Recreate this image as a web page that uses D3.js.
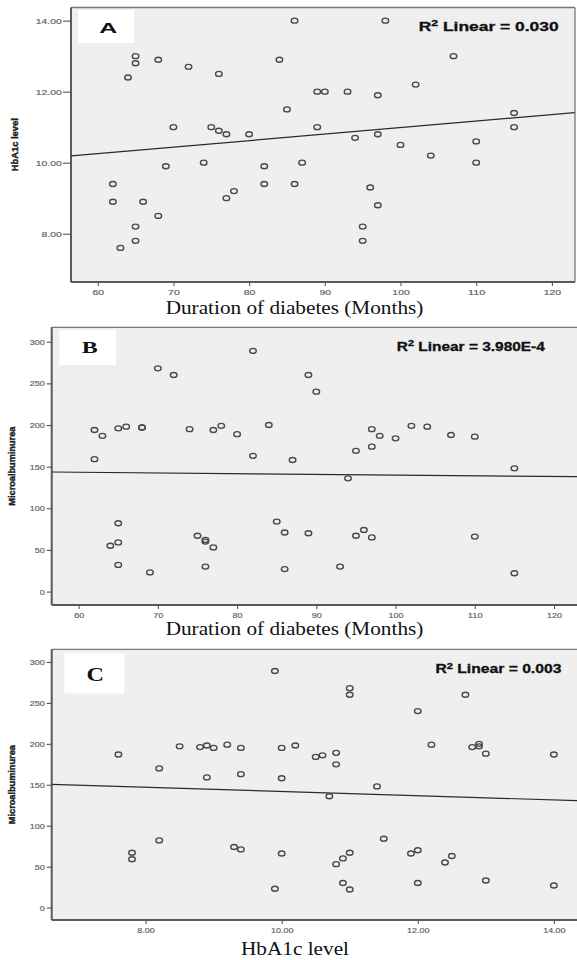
<!DOCTYPE html>
<html><head><meta charset="utf-8">
<script src="https://cdn.jsdelivr.net/npm/d3@7/dist/d3.min.js"></script>
<style>
html,body{margin:0;padding:0;background:#fff;}
svg{display:block;}
</style></head>
<body>
<script>
// ---------- DATA ----------
// Panel A: Duration of diabetes (months) vs HbA1c level
const durationA = [86,98,65,65,68,64,72,76,84,107,89,90,93,97,102,85,115,115,70,75,76,77,80,89,94,97,100,104,110,110,74,69,82,87,62,82,86,96,62,66,78,77,97,68,65,65,63,95,95];
const hba1cA    = [14.0,14.0,13.0,12.8,12.9,12.4,12.7,12.5,12.9,13.0,12.0,12.0,12.0,11.9,12.2,11.5,11.4,11.0,11.0,11.0,10.9,10.8,10.8,11.0,10.7,10.8,10.5,10.2,10.6,10.0,10.0,9.9,9.9,10.0,9.4,9.4,9.4,9.3,8.9,8.9,9.2,9.0,8.8,8.5,8.2,7.8,7.6,8.2,7.8];
const fitA = [[56.5,10.19],[123,11.41]];

// Panel B: Duration of diabetes (months) vs Microalbuminurea
const durationB = [82,70,72,89,90,62,63,65,66,68,68,74,77,78,80,84,62,82,87,97,98,100,102,104,107,110,97,95,115,94,65,85,64,65,65,69,75,76,76,77,76,86,89,93,95,96,97,110,115,86];
const microB    = [289,268,260,260,240,194,187,196,198,197,197,195,194,199,189,200,159,163,158,195,187,184,199,198,188,186,174,169,148,136,82,84,55,59,32,23,67,62,60,53,30,71,70,30,67,74,65,66,22,27];
const fitB = [[56.6,143.6],[122.9,138]];

// Panel C: HbA1c level vs Microalbuminurea
const hba1cC = [7.6,7.8,7.8,8.2,8.2,8.5,8.8,8.9,9.0,9.2,9.4,8.9,9.4,9.3,9.4,9.9,10.0,10.2,10.0,10.0,9.9,10.5,10.6,10.8,10.8,10.7,11.0,11.0,11.4,11.5,11.0,10.9,10.8,10.9,11.0,12.0,12.2,12.7,12.8,12.9,12.9,13.0,14.0,11.9,12.0,12.4,12.5,12.0,13.0,14.0];
const microC = [187,67,59,170,82,197,196,198,195,199,195,159,163,74,71,289,195,198,158,66,23,184,186,189,175,136,268,260,148,84,67,60,53,30,22,240,199,260,196,200,197,188,187,66,70,55,63,30,33,27];
const fitC = [[6.62,150.6],[14.34,130.6]];

// Tick values / labels
const ticksXA = [60,70,80,90,100,110,120];
const ticksYA = [8,10,12,14];
const ticksXB = [60,70,80,90,100,110,120];
const ticksYB = [0,50,100,150,200,250,300];
const ticksXC = [8,10,12,14];
const ticksYC = [0,50,100,150,200,250,300];

const panelLetters = ["A","B","C"];
const r2Labels = ["0.030","3.980E-4","0.003"];
const xTitles = ["Duration of diabetes (Months)","Duration of diabetes (Months)","HbA1c level"];
const yTitles = ["HbA1c level","Microalbuminurea","Microalbuminurea"];

// ---------- DRAW ----------
const W = 577, H = 960;
const svg = d3.select("body").append("svg").attr("width", W).attr("height", H);

const panels = [
  {xs:durationA, ys:hba1cA, fit:fitA, xd:[56.47,123.05], yd:[6.64,14.37],
   L:71, R:575, T:7.5, B:282, closed:true, xt:ticksXA, yt:ticksYA, yfmt:d3.format(".2f"), xfmt:d3.format("d"),
   box:[78,10,56,33], letter:{x:108.3,y:32.5,size:15,font:"Liberation Sans, Arial, sans-serif",len:18},
   r2:{x:418.7,y:30.7,len:140}, xtitle:{x:294.5,y:314,len:257.7}, ytitle:{x:15.3,len:53},
   ylabGap:8.7, tickLen:8, digitW:5.8},
  {xs:durationB, ys:microB, fit:fitB, xd:[56.6,122.9], yd:[-16.1,317.3],
   L:51.7, R:577, T:327.3, B:605, closed:false, xt:ticksXB, yt:ticksYB, yfmt:d3.format("d"), xfmt:d3.format("d"),
   box:[59.3,330,56.7,35], letter:{x:89.7,y:353.3,size:16,font:"Liberation Serif, 'Times New Roman', serif",len:16},
   r2:{x:396.8,y:350.7,len:148}, xtitle:{x:294.5,y:635,len:257.7}, ytitle:{x:12.2,len:79},
   ylabGap:6.5, tickLen:5, digitW:5.0},
  {xs:hba1cC, ys:microC, fit:fitC, xd:[6.62,14.34], yd:[-15.2,315.5],
   L:51.7, R:577, T:649.3, B:920, closed:false, xt:ticksXC, yt:ticksYC, yfmt:d3.format("d"), xfmt:d3.format(".2f"),
   box:[64.4,653.3,60,40], letter:{x:95.3,y:680.7,size:18,font:"Liberation Serif, 'Times New Roman', serif",len:17.5},
   r2:{x:435.4,y:673.3,len:126}, xtitle:{x:295,y:955,len:108}, ytitle:{x:12.2,len:79},
   ylabGap:6.5, tickLen:5, digitW:5.0}
];

function labelLen(s, dw) {
  let n = 0;
  for (const c of s) n += (c === ".") ? dw * 0.5 : dw;
  return n;
}

panels.forEach((p, i) => {
  const x = d3.scaleLinear().domain(p.xd).range([p.L, p.R]);
  const y = d3.scaleLinear().domain(p.yd).range([p.B, p.T]);
  const g = svg.append("g");

  // plot background
  g.append("rect").attr("x", p.L).attr("y", p.T)
    .attr("width", (p.closed ? p.R : W + 5) - p.L).attr("height", p.B - p.T)
    .attr("fill", "#efefef").attr("stroke", "none");

  // frame lines
  const fr = g.append("g").attr("stroke", "#5a5a5a").attr("fill", "none");
  fr.append("line").attr("x1", p.L).attr("x2", p.closed ? p.R : W + 5).attr("y1", p.T).attr("y2", p.T).attr("stroke-width", 1.3).attr("stroke","#777");
  fr.append("line").attr("x1", p.L).attr("x2", p.closed ? p.R : W + 5).attr("y1", p.B).attr("y2", p.B).attr("stroke-width", 1.8);
  fr.append("line").attr("x1", p.L).attr("x2", p.L).attr("y1", p.T).attr("y2", p.B).attr("stroke-width", 2);
  if (p.closed) fr.append("line").attr("x1", p.R).attr("x2", p.R).attr("y1", p.T).attr("y2", p.B).attr("stroke-width", 1.3).attr("stroke","#777");

  // y axis
  const yAxis = d3.axisLeft(y).tickValues(p.yt).tickFormat(p.yfmt).tickSize(p.tickLen).tickPadding(p.ylabGap - p.tickLen + 0.5);
  const ya = g.append("g").attr("transform", `translate(${p.L},0)`).call(yAxis);
  ya.select(".domain").remove();
  ya.selectAll(".tick line").attr("stroke", "#555").attr("stroke-width", 1.1);
  ya.selectAll(".tick text").attr("fill", "#555").attr("font-size", 8)
    .attr("font-family", "Liberation Sans, Arial, sans-serif")
    .attr("stroke", "#777").attr("stroke-width", 0.2)
    .attr("textLength", function(){ return labelLen(this.textContent, p.digitW); })
    .attr("lengthAdjust", "spacingAndGlyphs");

  // x axis
  const xAxis = d3.axisBottom(x).tickValues(p.xt).tickFormat(p.xfmt).tickSize(4).tickPadding(3);
  const xa = g.append("g").attr("transform", `translate(0,${p.B})`).call(xAxis);
  xa.select(".domain").remove();
  xa.selectAll(".tick line").attr("stroke", "#555").attr("stroke-width", 1.1);
  xa.selectAll(".tick text").attr("fill", "#555").attr("font-size", 8)
    .attr("font-family", "Liberation Sans, Arial, sans-serif")
    .attr("stroke", "#777").attr("stroke-width", 0.2)
    .attr("textLength", function(){ return labelLen(this.textContent, p.digitW); })
    .attr("lengthAdjust", "spacingAndGlyphs");

  // regression line
  g.append("line")
    .attr("x1", x(p.fit[0][0])).attr("y1", y(p.fit[0][1]))
    .attr("x2", x(p.fit[1][0])).attr("y2", y(p.fit[1][1]))
    .attr("stroke", "#2a2a2a").attr("stroke-width", 1.2);

  // points
  const pts = p.xs.map((v, k) => [v, p.ys[k]]);
  g.append("g").selectAll("ellipse").data(pts).join("ellipse")
    .attr("cx", d => x(d[0])).attr("cy", d => y(d[1]))
    .attr("rx", 3.3).attr("ry", 2.5)
    .attr("fill", "none").attr("stroke", "#4a4a4a").attr("stroke-width", 1.35);

  // panel letter box
  g.append("rect").attr("x", p.box[0]).attr("y", p.box[1]).attr("width", p.box[2]).attr("height", p.box[3])
    .attr("fill", "#fff");
  g.append("text").attr("x", p.letter.x).attr("y", p.letter.y).attr("text-anchor", "middle")
    .attr("font-family", p.letter.font).attr("font-weight", "bold").attr("font-size", p.letter.size)
    .attr("fill", "#111").attr("textLength", p.letter.len).attr("lengthAdjust", "spacingAndGlyphs")
    .text(panelLetters[i]);

  // R² label
  const t = g.append("text").attr("x", p.r2.x).attr("y", p.r2.y)
    .attr("font-family", "Liberation Sans, Arial, sans-serif").attr("font-weight", "bold")
    .attr("font-size", 12).attr("fill", "#111").attr("stroke", "#111").attr("stroke-width", 0.3)
    .attr("textLength", p.r2.len).attr("lengthAdjust", "spacingAndGlyphs");
  t.append("tspan").text("R");
  t.append("tspan").attr("dy", -4.5).attr("font-size", 8.5).text("2");
  t.append("tspan").attr("dy", 4.5).text(" Linear = " + r2Labels[i]);

  // x title
  g.append("text").attr("x", p.xtitle.x).attr("y", p.xtitle.y).attr("text-anchor", "middle")
    .attr("font-family", "Liberation Serif, 'Times New Roman', serif").attr("font-size", 19)
    .attr("fill", "#111").attr("textLength", p.xtitle.len).attr("lengthAdjust", "spacingAndGlyphs")
    .text(xTitles[i]);

  // y title
  const cy = (p.T + p.B) / 2;
  g.append("text").attr("transform", `translate(${p.ytitle.x},${cy}) rotate(-90)`)
    .attr("text-anchor", "middle").attr("dominant-baseline", "central")
    .attr("font-family", "Liberation Sans, Arial, sans-serif").attr("font-weight", "bold")
    .attr("font-size", 9).attr("fill", "#222").attr("stroke", "#222").attr("stroke-width", 0.4)
    .attr("textLength", p.ytitle.len).attr("lengthAdjust", "spacingAndGlyphs")
    .text(yTitles[i]);
});
</script>
</body></html>
